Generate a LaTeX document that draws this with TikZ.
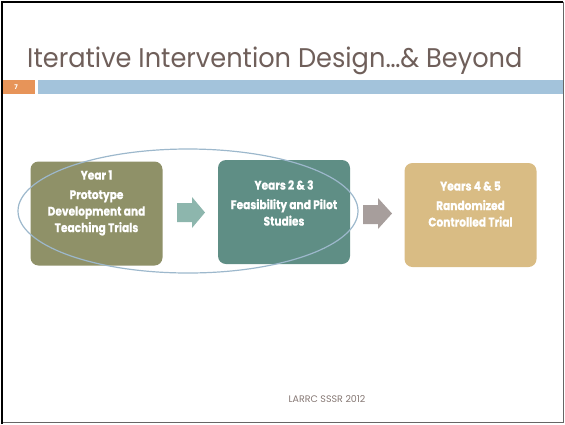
\documentclass[tikz,border=0pt]{standalone}
\usepackage{fontspec}
\setmainfont{Poppins}
\newfontfamily\titlefont{Poppins}[FakeStretch=0.95]
\newfontfamily\boxfont{Poppins}[FakeStretch=0.85, BoldFeatures={FakeBold=0.6}]
\usepackage{xcolor}
\usepackage{tikz}

\definecolor{titlebrown}{HTML}{6F5F5A}
\definecolor{barblue}{HTML}{A3C3DB}
\definecolor{barorange}{HTML}{E79459}
\definecolor{olivebox}{HTML}{8F9168}
\definecolor{tealbox}{HTML}{5F8E85}
\definecolor{tanbox}{HTML}{D9BC84}
\definecolor{lighttealarrow}{HTML}{8DB6AD}
\definecolor{grayarrow}{HTML}{A79E9C}
\definecolor{ringblue}{HTML}{9DB8CC}

\tikzset{
  stagebox/.style={rounded corners=8pt, minimum width=132pt, minimum height=104pt, inner sep=0pt},
  stagetext/.style={text=white, align=center, font=\boxfont\bfseries\fontsize{12.5}{16.5}\selectfont}
}

\begin{document}
\begin{tikzpicture}[x=1pt, y=-1pt]
				\useasboundingbox (0,0) rectangle (565,424);
				% slide frame
				\draw[gray!80!black, line width=1pt] (563,1.5) -- (563,422) -- (2,422);
				\draw[black, line width=2pt] (2,424) -- (2,1.5) -- (563,1.5);
				% title and header bars
				\node[anchor=base west, inner sep=0pt, text=titlebrown, font=\titlefont\fontsize{27}{30}\selectfont]
				  (title) at (27,67) {Iterative Intervention Design…\&\ Beyond};
				\fill[barorange] (3,80) rectangle (35,94);
				\fill[barblue] (38,80) rectangle (563,94);
				\node[text=white, font=\bfseries\fontsize{6.5}{7}\selectfont] (pagenum) at (16,87.5) {7};
				% stages
				\node[stagebox, fill=olivebox] (year1) at (96.5,213.5) {};
				\node[stagebox, fill=tealbox] (year23) at (284,212) {};
				\node[stagebox, fill=tanbox] (year45) at (470.5,215) {};
				\node[stagetext] (year1text) at (96.5,203) {Year 1\\[3pt]Prototype\\Development and\\Teaching Trials};
				\node[stagetext] (year23text) at (284,203) {Years 2 \& 3\\[3pt]Feasibility and Pilot\\Studies};
				\node[stagetext] (year45text) at (470.5,204) {Years 4 \& 5\\[3pt]Randomized\\Controlled Trial};
				% arrows between stages
				\fill[lighttealarrow] (177,203) -- (192,203) -- (192,197) -- (205,212.5)
				  -- (192,228) -- (192,222) -- (177,222) -- cycle;
				\fill[grayarrow] (363,205) -- (378,205) -- (378,198) -- (392,213.5)
				  -- (378,229) -- (378,224) -- (363,224) -- cycle;
				% ring round the first two stages
				\draw[ringblue, line width=1.2pt] (188,211) ellipse [x radius=170, y radius=62];
				% footer
				\node[text=titlebrown!85, font=\fontsize{9.5}{11}\selectfont] (footer) at (327,399.5) {LARRC SSSR 2012};
\end{tikzpicture}
\end{document}
